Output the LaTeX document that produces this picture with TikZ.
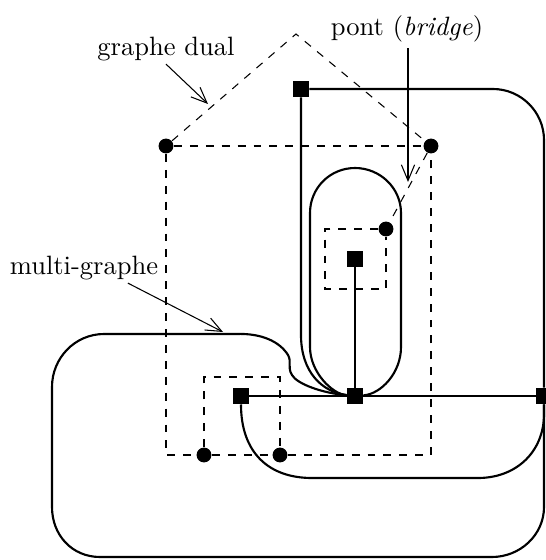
\documentclass[tikz,border=0pt]{standalone}
\usetikzlibrary{arrows.meta}
\begin{document}
\begin{tikzpicture}[x=0.377pt,y=-0.377pt,
  sommet/.style={rectangle, fill=black, minimum size=6pt, inner sep=0pt},
  dualsommet/.style={circle, fill=black, minimum size=5.6pt, inner sep=0pt},
  arete/.style={line width=0.8pt},
  dualarete/.style={dashed, line width=0.4pt},
  fleche/.style={line width=0.4pt, -{Straight Barb[length=6pt,width=5pt]}},
  etiquette/.style={inner sep=1pt}]
\useasboundingbox (0,0) rectangle (545,560);
% multi-graphe
\node (t)[sommet] at (301,89){};
\node (c)[sommet] at (355,396){};
\node (l)[sommet] at (241,396){};
\node (r)[sommet] at (544,396){};
\node (i)[sommet] at (355,259){};
\draw[arete] (t) -- (493,89) .. controls (521,89) and (544,112) .. (544,140) -- (r);
\draw[arete] (t) -- (301,335) .. controls (301,372) and (322,392) .. (c);
\draw[arete] (c) .. controls (332,394) and (310,372) .. (310,347) -- (310,213)
  .. controls (310,188) and (330,168) .. (355,168)
  .. controls (380,168) and (401,188) .. (401,213) -- (401,347)
  .. controls (401,373) and (381,394) .. (c);
\draw[arete] (c) -- (i);
\draw[arete] (l) -- (c);
\draw[arete] (c) -- (r);
\draw[arete] (l) .. controls (241,452) and (268,478) .. (312,478) -- (478,478)
  .. controls (516,478) and (544,452) .. (544,414) -- (r);
\draw[arete] (c) .. controls (322,393) and (297,384) .. (292,375)
  .. controls (287,367) and (292,362) .. (288,355)
  .. controls (280,342) and (262,333) .. (236,334) -- (104,334)
  .. controls (75,334) and (52,358) .. (52,387) -- (52,507)
  .. controls (52,535) and (72,557) .. (100,557) -- (492,557)
  .. controls (520,557) and (544,535) .. (544,507) -- (r);
% graphe dual
\node (dg)[dualsommet] at (166,146){};
\node (dd)[dualsommet] at (431,146){};
\node (dp)[dualsommet] at (386,229){};
\node (db1)[dualsommet] at (204,455){};
\node (db2)[dualsommet] at (280,455){};
\coordinate (toit) at (296,34);
\draw[dualarete] (dg) -- (dd);
\draw[dualarete] (dg) -- (toit) -- (dd);
\draw[dualarete] (dg) -- (166,455) -- (db1);
\draw[dualarete] (db1) -- (db2);
\draw[dualarete] (db2) -- (431,455) -- (dd);
\draw[dualarete] (db1) -- (204,377) -- (280,377) -- (db2);
\draw[dualarete] (dd) -- (dp);
\draw[dualarete] (dp) -- (325,229) -- (325,289) -- (386,289) -- (dp);
% legendes
\node (dual)[etiquette] at (166,49) {graphe dual};
\node (pont)[etiquette] at (407,29) {pont (\textit{bridge})};
\node (multi)[etiquette] at (84,268) {multi-graphe};
\coordinate (pdual) at (208,104);
\coordinate (ppont) at (408,182);
\coordinate (pmulti) at (223,332);
\draw[fleche] (dual.south) -- (pdual);
\draw[fleche, shorten <=1pt] (pont.south -| ppont) -- (ppont);
\draw[fleche] (multi.-19) -- (pmulti);
\end{tikzpicture}
\end{document}
